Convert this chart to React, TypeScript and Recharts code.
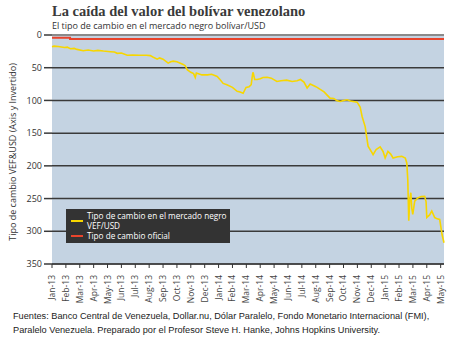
import { CartesianGrid, Line, LineChart, ReferenceLine, XAxis, YAxis } from 'recharts'

const monthLabels = [
  'Jan-13', 'Feb-13', 'Mar-13', 'Apr-13', 'May-13', 'Jun-13', 'Jul-13', 'Aug-13', 'Sep-13', 'Oct-13',
  'Nov-13', 'Dec-13', 'Jan-14', 'Feb-14', 'Mar-14', 'Apr-14', 'May-14', 'Jun-14', 'Jul-14', 'Aug-14',
  'Sep-14', 'Oct-14', 'Nov-14', 'Dec-14', 'Jan-15', 'Feb-15', 'Mar-15', 'Apr-15', 'May-15',
]

// months since Jan-13 (fractional), black market VEF per USD
const blackMonth = [
  0, 0.15, 0.45, 0.9, 1.1, 1.32, 1.6, 1.8, 2.25, 2.6, 3.0, 3.3, 3.7, 4.2, 4.5, 4.7, 5.0, 5.42, 5.8, 6.3,
  6.8, 7.08, 7.3, 7.58, 7.75, 8.0, 8.37, 8.55, 8.73, 9.0, 9.45, 9.6, 9.74, 10.0, 10.2, 10.32, 10.4, 10.8,
  11.2, 11.5, 11.9, 12.1, 12.33, 12.6, 13.0, 13.34, 13.55, 13.77, 13.98, 14.2, 14.35, 14.45, 14.49, 14.6,
  14.78, 15.0, 15.2, 15.5, 15.8, 16.2, 16.5, 16.9, 17.3, 17.66, 17.9, 18.15, 18.38, 18.6, 18.9, 19.1,
  19.32, 19.6, 20.03, 20.3, 20.5, 20.76, 21.0, 21.26, 21.5, 21.98, 22.2, 22.34, 22.56, 22.77, 23.0, 23.13,
  23.35, 23.64, 23.85, 24.0, 24.2, 24.4, 24.57, 24.9, 25.2, 25.45, 25.56, 25.63, 25.7, 25.78, 25.85, 25.92,
  25.99, 26.13, 26.35, 26.6, 26.85, 26.95, 27.0, 27.2, 27.36, 27.57, 27.75, 27.93, 28.1, 28.24,
]
const blackRate = [
  18, 17, 17.5, 19, 18.5, 21, 20.5, 22, 24, 23, 24.5, 23.5, 24.5, 25.5, 26, 28, 27.5, 31, 30.5, 31,
  31, 31.5, 34, 37, 35, 37, 43, 41, 40, 41, 45, 47, 53, 57, 59, 65, 58, 61,
  61, 60, 63.5, 68, 74, 76, 80, 86, 87, 89, 80, 79, 76, 60, 57, 68,
  68, 67, 65, 64.5, 66, 71, 70, 69, 71, 70, 68, 72, 81, 75, 78, 80,
  83, 87, 96.5, 97, 100, 101.6, 100, 99, 101, 102.6, 110, 124.5, 140, 170, 178, 183,
  175, 171, 178, 188, 178, 182, 188, 186, 185.5, 188, 195.6, 221, 284, 250, 241, 265,
  274, 254, 249, 247, 246.5, 255, 279, 275, 269, 279, 281, 282, 305, 317.5,
]

const officialMonth = [0, 1.3, 1.3, 28.24]
const officialRate = [4.3, 4.3, 6.3, 6.3]

const yTicks = [0, 50, 100, 150, 200, 250, 300, 350]

const blackData = blackMonth.map((m, i) => ({ m, rate: blackRate[i] }))
const officialData = officialMonth.map((m, i) => ({ m, rate: officialRate[i] }))
const xTicks = monthLabels.map((_, i) => i)

const sans = '"Open Sans", "DejaVu Sans", sans-serif'
const narrowSans = '"Liberation Sans", Arial, sans-serif'

function MonthTick({ x, y, payload }: any) {
  return (
    <text
      transform={`translate(${x},${y + 5}) rotate(-90)`}
      textAnchor="end"
      dy="0.35em"
      fontSize={8.5}
      fontFamily={sans}
      fill="#444"
    >
      {monthLabels[payload.value]}
    </text>
  )
}

function LegendBox() {
  const row = { display: 'flex', alignItems: 'center', whiteSpace: 'nowrap' } as const
  const swatch = (color: string) => (
    <span style={{ display: 'inline-block', flex: 'none', width: 12, height: 2, background: color, marginRight: 4 }} />
  )
  return (
    <div
      style={{
        position: 'absolute',
        left: 66,
        top: 209,
        boxSizing: 'border-box',
        width: 164,
        height: 34,
        background: '#333',
        color: '#fff',
        fontFamily: sans,
        fontSize: 8.2,
        lineHeight: '10px',
        padding: '2px 5px',
      }}
    >
      <div style={row}>
        {swatch('#f7d600')}
        <span>
          Tipo de cambio en el mercado negro
          <br />
          VEF/USD
        </span>
      </div>
      <div style={row}>
        {swatch('#e8442c')}
        <span>Tipo de cambio oficial</span>
      </div>
    </div>
  )
}

export default function App() {
  return (
    <div style={{ position: 'absolute', left: 0, top: 0, width: 450, height: 352, background: '#fff' }}>
      <div
        style={{
          position: 'absolute',
          left: 52,
          top: 3,
          fontFamily: '"Liberation Serif", serif',
          fontWeight: 'bold',
          fontSize: 14.5,
          color: '#3a3a3a',
          whiteSpace: 'nowrap',
        }}
      >
        La caída del valor del bolívar venezolano
      </div>
      <div
        style={{
          position: 'absolute',
          left: 52,
          top: 19,
          fontFamily: sans,
          fontSize: 9,
          color: '#333',
          whiteSpace: 'nowrap',
        }}
      >
        El tipo de cambio en el mercado negro bolívar/USD
      </div>
      <div
        style={{
          position: 'absolute',
          left: 12,
          top: 152,
          transform: 'translate(-50%, -50%) rotate(-90deg)',
          fontFamily: sans,
          fontSize: 9,
          color: '#333',
          whiteSpace: 'nowrap',
        }}
      >
        Tipo de cambio VEF&amp;USD (Axis y Invertido)
      </div>
      <LineChart width={450} height={352} margin={{ top: 35, right: 6, bottom: 48, left: 12 }}>
        <CartesianGrid vertical={false} fill="#c4d3e2" stroke="#3a3a3a" strokeWidth={1.5} />
        <XAxis
          type="number"
          dataKey="m"
          domain={[0, 28.24]}
          ticks={xTicks}
          interval={0}
          height={40}
          stroke="#333"
          tickSize={4}
          tick={<MonthTick />}
        />
        <YAxis
          type="number"
          reversed
          domain={[0, 350]}
          ticks={yTicks}
          width={40}
          axisLine={false}
          tickSize={8}
          tickLine={{ stroke: '#3a3a3a', strokeWidth: 1.5 }}
          tick={{ fontSize: 9, fill: '#333', fontFamily: sans }}
        />
        <ReferenceLine y={0} stroke="#8a8a8a" strokeWidth={2} />
        <Line
          data={officialData}
          dataKey="rate"
          stroke="#e8442c"
          strokeWidth={2}
          dot={false}
          isAnimationActive={false}
        />
        <Line
          data={blackData}
          dataKey="rate"
          stroke="#f7d600"
          strokeWidth={1.6}
          dot={false}
          isAnimationActive={false}
        />
      </LineChart>
      <LegendBox />
      <div
        style={{
          position: 'absolute',
          left: 13,
          top: 309,
          fontFamily: narrowSans,
          fontSize: 9.2,
          lineHeight: '14px',
          color: '#222',
          whiteSpace: 'nowrap',
        }}
      >
        Fuentes: Banco Central de Venezuela, Dollar.nu, Dólar Paralelo, Fondo Monetario Internacional (FMI),
        <br />
        Paralelo Venezuela. Preparado por el Profesor Steve H. Hanke, Johns Hopkins University.
      </div>
    </div>
  )
}
